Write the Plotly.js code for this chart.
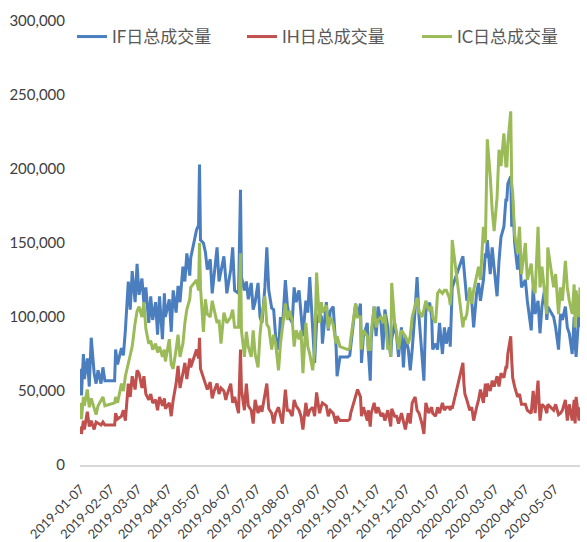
<!DOCTYPE html>
<html>
<head>
<meta charset="utf-8">
<script src="https://cdn.plot.ly/plotly-3.0.1.min.js"></script>
<style>html,body{margin:0;padding:0;background:#fff;}#chart{width:587px;height:542px;}</style>
</head>
<body>
<div id="chart"></div>
<script>
const dates = [
"2019-01-07","2019-01-08","2019-01-10","2019-01-11","2019-01-14","2019-01-16","2019-01-18","2019-01-21","2019-01-23","2019-01-25",
"2019-01-28","2019-01-30","2019-02-01","2019-02-11","2019-02-12","2019-02-14","2019-02-18","2019-02-20","2019-02-22","2019-02-25",
"2019-02-27","2019-03-01","2019-03-04","2019-03-06","2019-03-08","2019-03-11","2019-03-13","2019-03-15","2019-03-18","2019-03-20",
"2019-03-22","2019-03-25","2019-03-27","2019-03-29","2019-04-01","2019-04-03","2019-04-04","2019-04-08","2019-04-10","2019-04-12",
"2019-04-15","2019-04-17","2019-04-19","2019-04-22","2019-04-24","2019-04-26","2019-04-29","2019-04-30","2019-05-06","2019-05-08",
"2019-05-09","2019-05-10","2019-05-13","2019-05-15","2019-05-17","2019-05-20","2019-05-22","2019-05-24","2019-05-27","2019-05-29",
"2019-05-31","2019-06-03","2019-06-05","2019-06-06","2019-06-10","2019-06-12","2019-06-14","2019-06-18","2019-06-20","2019-06-21",
"2019-06-24","2019-06-26","2019-06-28","2019-07-01","2019-07-03","2019-07-05","2019-07-08","2019-07-10","2019-07-12","2019-07-15",
"2019-07-17","2019-07-19","2019-07-22","2019-07-24","2019-07-26","2019-07-29","2019-07-31","2019-08-02","2019-08-05","2019-08-07",
"2019-08-09","2019-08-12","2019-08-14","2019-08-16","2019-08-19","2019-08-21","2019-08-23","2019-08-26","2019-08-28","2019-08-30",
"2019-09-02","2019-09-04","2019-09-06","2019-09-09","2019-09-11","2019-09-12","2019-09-16","2019-09-18","2019-09-20","2019-09-23",
"2019-09-25","2019-09-26","2019-09-27","2019-09-30","2019-10-08","2019-10-10","2019-10-11","2019-10-14","2019-10-16","2019-10-18",
"2019-10-21","2019-10-22","2019-10-24","2019-10-28","2019-10-29","2019-10-31","2019-11-01","2019-11-04","2019-11-06","2019-11-08",
"2019-11-11","2019-11-13","2019-11-15","2019-11-18","2019-11-20","2019-11-21","2019-11-22","2019-11-25","2019-11-27","2019-11-29",
"2019-12-02","2019-12-04","2019-12-06","2019-12-09","2019-12-11","2019-12-13","2019-12-16","2019-12-18","2019-12-20","2019-12-23",
"2019-12-25","2019-12-27","2019-12-30","2019-12-31","2020-01-02","2020-01-03","2020-01-06","2020-01-08","2020-01-10","2020-01-13",
"2020-01-15","2020-01-17","2020-01-20","2020-01-21","2020-01-22","2020-01-23","2020-02-03","2020-02-04","2020-02-05","2020-02-07",
"2020-02-10","2020-02-12","2020-02-14","2020-02-17","2020-02-19","2020-02-21","2020-02-24","2020-02-26","2020-02-27","2020-02-28",
"2020-03-02","2020-03-04","2020-03-06","2020-03-09","2020-03-11","2020-03-13","2020-03-16","2020-03-18","2020-03-19","2020-03-20",
"2020-03-23","2020-03-24","2020-03-25","2020-03-27","2020-03-30","2020-04-01","2020-04-03","2020-04-07","2020-04-09","2020-04-13",
"2020-04-15","2020-04-17","2020-04-20","2020-04-22","2020-04-24","2020-04-27","2020-04-29","2020-04-30","2020-05-06","2020-05-08",
"2020-05-11","2020-05-13","2020-05-15","2020-05-18","2020-05-20","2020-05-22","2020-05-25","2020-05-27","2020-05-28","2020-05-29",
"2020-06-01","2020-06-02"
];

const ifVolume = [
65000,47000,75000,58000,72000,53000,86000,62000,55000,64000,
55000,66000,57000,57000,78000,68000,79000,74000,91000,124000,
105000,131000,110000,136000,115000,126000,109000,120000,96000,114000,
98000,110000,88000,114000,85000,116000,100000,112000,90000,118000,
103000,121000,110000,134000,124000,143000,128000,140000,159000,162000,
203000,152000,150000,144000,132000,139000,116000,128000,147000,124000,
130000,141000,125000,116000,132000,147000,118000,116000,186000,127000,
118000,124000,112000,123000,105000,110000,123000,100000,96000,120000,
147000,118000,106000,105000,87000,78000,100000,93000,125000,108000,
100000,96000,120000,110000,118000,100000,87000,111000,103000,127000,
87000,69000,96000,103000,100000,82000,110000,91000,104000,107000,
87000,80000,60000,73000,73000,74000,80000,96000,109000,100000,
109000,69000,87000,96000,78000,57000,85000,107000,87000,107000,
96000,78000,105000,93000,80000,73000,85000,96000,87000,73000,
93000,66000,87000,78000,64000,78000,105000,127000,100000,73000,
57000,105000,109000,109000,100000,78000,82000,78000,96000,75000,
93000,82000,93000,80000,100000,120000,141000,132000,129000,111000,
116000,111000,93000,116000,123000,111000,125000,143000,140000,152000,
129000,147000,133000,114000,138000,154000,161000,179000,179000,190000,
195000,161000,179000,150000,132000,143000,120000,125000,111000,91000,
120000,102000,111000,89000,107000,120000,98000,107000,100000,93000,
78000,102000,98000,107000,93000,89000,75000,100000,82000,73000,
104000,93000
];

const ihVolume = [
26000,21000,30000,24000,36000,26000,30000,24000,29000,28000,
27000,29000,27000,27000,35000,31000,33000,37000,30000,55000,
46000,60000,51000,64000,62000,52000,60000,48000,44000,48000,
42000,44000,37000,46000,40000,45000,38000,42000,33000,44000,
55000,67000,52000,62000,69000,58000,72000,66000,78000,72000,
86000,65000,58000,55000,51000,56000,45000,50000,55000,48000,
52000,50000,44000,47000,55000,42000,46000,35000,78000,51000,
37000,55000,40000,37000,28000,44000,35000,40000,36000,48000,
55000,38000,35000,28000,35000,39000,33000,28000,51000,37000,
37000,33000,44000,40000,37000,33000,24000,42000,33000,37000,
39000,33000,49000,35000,40000,42000,40000,33000,37000,35000,
30000,28000,33000,30000,30000,31000,35000,42000,48000,51000,
46000,33000,39000,30000,37000,26000,35000,42000,35000,39000,
33000,35000,30000,37000,30000,26000,38000,33000,33000,28000,
35000,30000,24000,35000,28000,42000,46000,37000,35000,28000,
21000,42000,35000,37000,39000,35000,33000,39000,35000,42000,
37000,39000,39000,37000,40000,38000,69000,55000,48000,44000,
37000,39000,30000,39000,44000,51000,42000,55000,46000,55000,
50000,57000,53000,60000,53000,62000,59000,66000,66000,75000,
87000,71000,59000,53000,46000,48000,41000,41000,37000,35000,
50000,35000,57000,30000,41000,39000,35000,41000,37000,41000,
34000,35000,37000,44000,30000,41000,30000,44000,28000,46000,
30000,39000
];

const icVolume = [
42000,31000,46000,40000,51000,39000,45000,38000,34000,40000,
44000,46000,40000,42000,46000,42000,55000,50000,60000,69000,
74000,80000,96000,104000,107000,100000,110000,92000,82000,84000,
78000,82000,76000,80000,73000,78000,70000,85000,68000,65000,
78000,88000,73000,82000,96000,105000,112000,120000,125000,118000,
150000,120000,90000,112000,102000,100000,111000,104000,96000,98000,
82000,103000,98000,96000,100000,105000,93000,93000,143000,91000,
73000,90000,80000,73000,91000,75000,66000,88000,101000,114000,
95000,93000,78000,88000,82000,64000,82000,93000,109000,98000,
104000,98000,80000,91000,85000,91000,62000,96000,80000,75000,
64000,78000,130000,96000,110000,103000,108000,92000,100000,95000,
85000,82000,87000,80000,78000,79000,85000,100000,109000,100000,
100000,78000,91000,87000,78000,78000,90000,107000,93000,98000,
100000,96000,102000,78000,80000,73000,123000,96000,90000,78000,
91000,89000,87000,82000,87000,100000,109000,113000,104000,100000,
105000,111000,104000,106000,107000,100000,96000,116000,118000,116000,
118000,118000,113000,108000,118000,152000,93000,100000,98000,102000,
120000,109000,118000,129000,134000,125000,161000,150000,190000,220000,
195000,172000,158000,181000,213000,202000,224000,202000,202000,217000,
239000,190000,184000,156000,143000,161000,129000,150000,125000,136000,
120000,116000,161000,120000,134000,116000,102000,147000,120000,129000,
102000,120000,111000,138000,120000,111000,102000,122000,93000,118000,
100000,120000
];

const seriesNames = ["IF日总成交量", "IH日总成交量", "IC日总成交量"];
const seriesColors = ["#4a7ebf", "#c0504d", "#9bbb59"];
const tickDates = ["2019-01-07","2019-02-07","2019-03-07","2019-04-07","2019-05-07","2019-06-07","2019-07-07","2019-08-07","2019-09-07","2019-10-07","2019-11-07","2019-12-07","2020-01-07","2020-02-07","2020-03-07","2020-04-07","2020-05-07"];
const yTicks = [0, 50000, 100000, 150000, 200000, 250000, 300000];

const legendIds = ["legend", "legend2", "legend3"];
const values = [ifVolume, ihVolume, icVolume];
const traces = values.map((v, i) => ({
  type: "scatter",
  mode: "lines",
  x: dates,
  y: v,
  name: seriesNames[i],
  legend: legendIds[i],
  line: {color: seriesColors[i], width: 3, shape: "linear"},
  hoverinfo: "skip"
}));

const fontFam = "Lato, 'Noto Sans CJK SC', sans-serif";
function legendAt(px) {
  return {
    orientation: "h",
    xref: "container", yref: "container",
    x: px / 587, xanchor: "left",
    y: 1 - 37 / 542, yanchor: "middle",
    font: {family: fontFam, size: 17, color: "#595959"},
    itemwidth: 30,
    bgcolor: "rgba(0,0,0,0)"
  };
}
const layout = {
  width: 587,
  height: 542,
  margin: {l: 80, r: 7, t: 21, b: 77, autoexpand: false},
  paper_bgcolor: "#ffffff",
  plot_bgcolor: "#ffffff",
  showlegend: true,
  legend: legendAt(72),
  legend2: legendAt(242),
  legend3: legendAt(417),
  xaxis: {
    type: "date",
    range: ["2019-01-06 12:00", "2020-06-02 00:00"],
    tickmode: "array",
    tickvals: tickDates,
    ticktext: tickDates,
    tickangle: -45,
    ticks: "",
    ticklabelstandoff: 10,
    showgrid: false,
    zeroline: false,
    showline: true,
    linecolor: "#d9d9d9",
    linewidth: 1.5,
    tickfont: {family: fontFam, size: 13, color: "#404040"},
    fixedrange: true
  },
  yaxis: {
    range: [0, 300000],
    tickmode: "array",
    tickvals: yTicks,
    tickformat: ",",
    ticks: "",
    showgrid: false,
    zeroline: false,
    showline: false,
    ticklabelstandoff: 14,
    tickfont: {family: fontFam, size: 15, color: "#404040"},
    fixedrange: true
  },
  hovermode: false
};

Plotly.newPlot("chart", traces, layout, {staticPlot: true, displayModeBar: false});
</script>
</body>
</html>
